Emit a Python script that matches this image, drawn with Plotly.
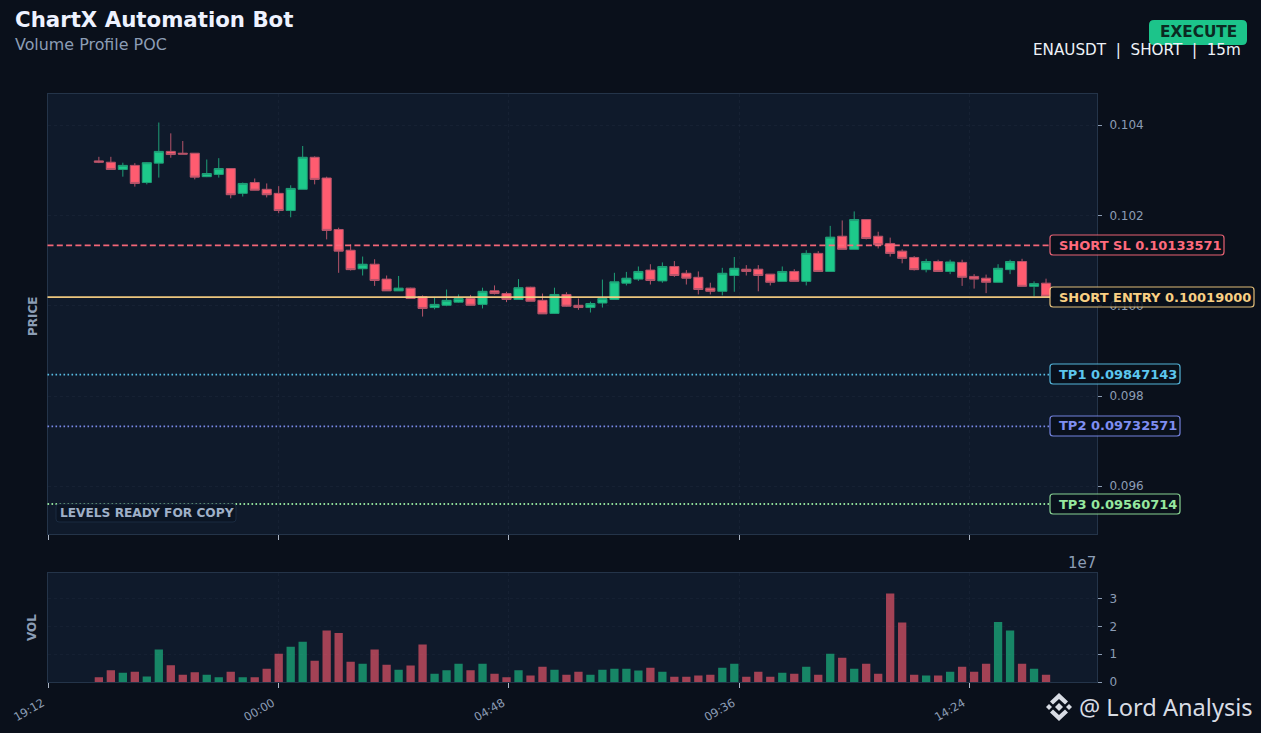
# !/usr/bin/env python
# coding: utf-8

import pandas as pd
import plotly.graph_objects as go

W = 1261
H = 733

# Velas de 15m (ENAUSDT)
opens = [0.10321, 0.10318, 0.10302, 0.10311, 0.10273, 0.10316, 0.10342, 0.10338, 0.10338, 0.10286,
         0.10291, 0.10304, 0.10249, 0.10273, 0.10258, 0.10249, 0.10211, 0.10258, 0.10329, 0.10283,
         0.10169, 0.10123, 0.10082, 0.10092, 0.10059, 0.10033, 0.10039, 0.10020, 0.09996, 0.10001,
         0.10008, 0.10016, 0.10003, 0.10033, 0.10027, 0.10014, 0.10041, 0.10012, 0.09983, 0.10025,
         0.10001, 0.09996, 0.10006, 0.10014, 0.10050, 0.10059, 0.10079, 0.10055, 0.10087, 0.10072,
         0.10063, 0.10039, 0.10032, 0.10067, 0.10081, 0.10081, 0.10070, 0.10054, 0.10076, 0.10054,
         0.10116, 0.10076, 0.10154, 0.10125, 0.10191, 0.10154, 0.10138, 0.10121, 0.10107, 0.10080,
         0.10098, 0.10076, 0.10096, 0.10065, 0.10061, 0.10052, 0.10080, 0.10098, 0.10043, 0.10050]
highs = [0.10330, 0.10330, 0.10317, 0.10316, 0.10318, 0.10406, 0.10382, 0.10365, 0.10338, 0.10324,
         0.10327, 0.10304, 0.10273, 0.10282, 0.10271, 0.10265, 0.10267, 0.10354, 0.10331, 0.10286,
         0.10173, 0.10136, 0.10109, 0.10103, 0.10067, 0.10066, 0.10040, 0.10023, 0.10018, 0.10036,
         0.10025, 0.10024, 0.10040, 0.10045, 0.10031, 0.10059, 0.10042, 0.10027, 0.10040, 0.10030,
         0.10016, 0.10009, 0.10058, 0.10073, 0.10075, 0.10087, 0.10092, 0.10096, 0.10099, 0.10079,
         0.10076, 0.10051, 0.10084, 0.10108, 0.10090, 0.10090, 0.10070, 0.10087, 0.10081, 0.10123,
         0.10121, 0.10177, 0.10189, 0.10209, 0.10191, 0.10164, 0.10151, 0.10125, 0.10110, 0.10104,
         0.10102, 0.10102, 0.10102, 0.10070, 0.10069, 0.10092, 0.10102, 0.10104, 0.10054, 0.10060]
lows = [0.10316, 0.10301, 0.10286, 0.10264, 0.10269, 0.10284, 0.10328, 0.10336, 0.10280, 0.10285,
        0.10284, 0.10238, 0.10242, 0.10256, 0.10240, 0.10205, 0.10196, 0.10258, 0.10269, 0.10147,
        0.10073, 0.10078, 0.10067, 0.10044, 0.10033, 0.10033, 0.10016, 0.09976, 0.09992, 0.09999,
        0.10007, 0.10001, 0.09994, 0.10025, 0.10008, 0.10014, 0.10010, 0.09982, 0.09982, 0.09998,
        0.09991, 0.09985, 0.09996, 0.10014, 0.10045, 0.10055, 0.10047, 0.10051, 0.10064, 0.10047,
        0.10025, 0.10025, 0.10023, 0.10031, 0.10067, 0.10032, 0.10045, 0.10054, 0.10054, 0.10045,
        0.10076, 0.10076, 0.10125, 0.10125, 0.10147, 0.10127, 0.10109, 0.10094, 0.10078, 0.10074,
        0.10076, 0.10070, 0.10044, 0.10038, 0.10028, 0.10052, 0.10070, 0.10043, 0.10021, 0.10021]
closes = [0.10318, 0.10302, 0.10311, 0.10271, 0.10317, 0.10342, 0.10335, 0.10336, 0.10285, 0.10293,
          0.10304, 0.10246, 0.10271, 0.10256, 0.10246, 0.10211, 0.10260, 0.10329, 0.10280, 0.10167,
          0.10121, 0.10080, 0.10092, 0.10056, 0.10033, 0.10039, 0.10016, 0.09994, 0.10003, 0.10012,
          0.10016, 0.10001, 0.10032, 0.10027, 0.10014, 0.10040, 0.10010, 0.09982, 0.10025, 0.09999,
          0.09996, 0.10005, 0.10016, 0.10053, 0.10061, 0.10076, 0.10056, 0.10087, 0.10067, 0.10061,
          0.10036, 0.10032, 0.10072, 0.10083, 0.10076, 0.10067, 0.10052, 0.10076, 0.10054, 0.10116,
          0.10076, 0.10152, 0.10125, 0.10191, 0.10149, 0.10135, 0.10116, 0.10105, 0.10080, 0.10098,
          0.10076, 0.10097, 0.10063, 0.10059, 0.10052, 0.10083, 0.10098, 0.10043, 0.10049, 0.10021]

# Volumen en unidades de 1e7
volumes = [0.17, 0.42, 0.33, 0.37, 0.20, 1.17, 0.60, 0.26, 0.35, 0.26,
           0.17, 0.37, 0.17, 0.17, 0.48, 1.02, 1.27, 1.45, 0.76, 1.85,
           1.76, 0.73, 0.66, 1.17, 0.62, 0.44, 0.59, 1.35, 0.30, 0.42,
           0.66, 0.42, 0.66, 0.30, 0.17, 0.42, 0.23, 0.55, 0.44, 0.26,
           0.37, 0.26, 0.44, 0.48, 0.48, 0.41, 0.51, 0.37, 0.19, 0.19,
           0.23, 0.26, 0.51, 0.66, 0.19, 0.37, 0.19, 0.33, 0.30, 0.55,
           0.26, 1.02, 0.87, 0.48, 0.66, 0.30, 3.18, 2.14, 0.26, 0.23,
           0.23, 0.37, 0.55, 0.37, 0.66, 2.16, 1.85, 0.66, 0.48, 0.26]

times = pd.date_range('2025-01-01 20:15', periods=len(opens), freq='15min')

tick_times = ['2025-01-01 19:12', '2025-01-02 00:00', '2025-01-02 04:48',
              '2025-01-02 09:36', '2025-01-02 14:24']
tick_labels = ['19:12', '00:00', '04:48', '09:36', '14:24']
price_ticks = [0.096, 0.098, 0.100, 0.102, 0.104]
vol_ticks = [0, 1, 2, 3]

level_names = ['SHORT SL', 'SHORT ENTRY', 'TP1', 'TP2', 'TP3']
level_values = [0.10133571, 0.10019000, 0.09847143, 0.09732571, 0.09560714]
level_colors = ['#ff6b7d', '#f8cf83', '#5cc6ee', '#7f8ef2', '#96e89f']
level_dashes = ['6px,3.3px', 'solid', '1.6px,2.4px', '1.6px,2.4px', '1.6px,2.4px']
level_box_right = [1224, 1254, 1180, 1180, 1180]
level_box_middle = [245, 297, 374, 426, 504]

BG = '#0a101b'
PANEL = '#0f1a2b'
FRAME = '#243449'
MUTED = '#8c9db5'
UP = '#1dc98a'
DOWN = '#ff5c70'
FONT = 'DejaVu Sans'


def px(x):
    return x / W


def py(y):
    return 1 - y / H


def poly(points):
    """Path cerrado a partir de puntos en pixeles de la pagina."""
    head = f'M {px(points[0][0])},{py(points[0][1])}'
    body = ' '.join(f'L {px(x)},{py(y)}' for x, y in points[1:])
    return f'{head} {body} Z'


def rounded(x0, y0, x1, y1, r=3):
    """Rectangulo redondeado en pixeles de la pagina."""
    return (f'M {px(x0 + r)},{py(y0)} L {px(x1 - r)},{py(y0)} '
            f'Q {px(x1)},{py(y0)} {px(x1)},{py(y0 + r)} L {px(x1)},{py(y1 - r)} '
            f'Q {px(x1)},{py(y1)} {px(x1 - r)},{py(y1)} L {px(x0 + r)},{py(y1)} '
            f'Q {px(x0)},{py(y1)} {px(x0)},{py(y1 - r)} L {px(x0)},{py(y0 + r)} '
            f'Q {px(x0)},{py(y0)} {px(x0 + r)},{py(y0)} Z')


def add_text(fig, x, y, text, size, color, anchor='left', bold=False, family=FONT, angle=0):
    label = f'<b>{text}</b>' if bold else text
    fig.add_annotation(xref='paper', yref='paper', x=px(x), y=py(y), text=label,
                       showarrow=False, xanchor=anchor, yanchor='middle', textangle=angle,
                       font=dict(family=family, size=size, color=color), borderpad=0)


fig = go.Figure()

fig.add_trace(go.Candlestick(x=times, open=opens, high=highs, low=lows, close=closes,
                             increasing=dict(fillcolor=UP, line=dict(color='#1f9f77', width=1)),
                             decreasing=dict(fillcolor=DOWN, line=dict(color='#b5546a', width=1)),
                             whiskerwidth=0, xaxis='x', yaxis='y', showlegend=False))

vol_colors = [UP if c >= o else DOWN for o, c in zip(opens, closes)]
fig.add_trace(go.Bar(x=times, y=volumes, marker=dict(color=vol_colors, opacity=0.62, line_width=0),
                     width=623000, xaxis='x2', yaxis='y2', showlegend=False))

x_common = dict(type='date', range=['2025-01-01 19:10:45', '2025-01-02 17:03:45'],
                tickmode='array', tickvals=tick_times, ticks='outside', ticklen=5, tickwidth=1,
                tickcolor='#aab4c4', showline=True, linecolor=FRAME, mirror=True,
                showgrid=True, gridcolor='rgba(140,160,190,0.06)', griddash='dot',
                zeroline=False, rangeslider=dict(visible=False))

fig.update_layout(
    width=W, height=H, autosize=False,
    margin=dict(l=0, r=0, t=0, b=0, autoexpand=False),
    paper_bgcolor=BG, plot_bgcolor=PANEL,
    boxgap=0.24, boxgroupgap=0, bargap=0.3,
    font=dict(family=FONT, size=11, color=MUTED),
    hovermode=False,
    xaxis=dict(domain=[px(47.5), px(1097)], anchor='y', showticklabels=False, **x_common),
    xaxis2=dict(domain=[px(47.5), px(1097)], anchor='y2', showticklabels=True, ticktext=tick_labels,
                tickangle=-30, tickfont=dict(size=11.5, color=MUTED),
                ticklabelstandoff=4, ticklabelshift=-6, **x_common),
    yaxis=dict(domain=[py(534), py(94)], anchor='x', side='right', range=[0.094942, 0.104692],
               tickmode='array', tickvals=price_ticks, tickformat='.3f', ticks='outside', ticklen=4,
               tickcolor=MUTED, tickfont=dict(size=12, color=MUTED), ticklabelstandoff=5,
               showline=True, linecolor=FRAME, mirror=True, showgrid=True,
               gridcolor='rgba(140,160,190,0.06)', griddash='dot', zeroline=False),
    yaxis2=dict(domain=[py(682), py(573)], anchor='x2', side='right', range=[0, 3.92],
                tickmode='array', tickvals=vol_ticks, ticks='outside', ticklen=4,
                tickcolor=MUTED, tickfont=dict(size=12, color=MUTED), ticklabelstandoff=5,
                showline=True, linecolor=FRAME, mirror=True, showgrid=True,
                gridcolor='rgba(140,160,190,0.05)', griddash='dot', zeroline=False),
)

# Niveles de la operacion con sus etiquetas
for name, value, color, dash, right, middle in zip(level_names, level_values, level_colors,
                                                   level_dashes, level_box_right, level_box_middle):
    fig.add_shape(type='line', xref='paper', yref='y', x0=px(47.5), x1=px(1050), y0=value, y1=value,
                  line=dict(color=color, width=1.8, dash=dash), opacity=0.95, layer='above')
    fig.add_shape(type='path', xref='paper', yref='paper', path=rounded(1050, middle - 10, right, middle + 10),
                  fillcolor='rgba(10,16,27,0.94)', line=dict(color=color, width=1.2), opacity=0.9, layer='above')
    add_text(fig, 1058, middle, f'{name} {value:.8f}', 13, color, bold=True)

# Cabecera
add_text(fig, 14, 20, 'ChartX Automation Bot', 21.3, '#eef2ff', bold=True)
add_text(fig, 14, 45, 'Volume Profile POC', 15.9, MUTED)
fig.add_shape(type='path', xref='paper', yref='paper', path=rounded(1149, 20, 1247, 45, 5),
              fillcolor='#1cc48a', line_width=0, layer='above')
add_text(fig, 1198, 32, 'EXECUTE', 15.3, '#0b2a22', anchor='center', bold=True)
add_text(fig, 1242, 50, 'ENAUSDT  |  SHORT  |  15m', 15.2, '#eef2f8', anchor='right')

# Rotulos de los paneles
add_text(fig, 33, 316, 'PRICE', 12, MUTED, anchor='center', bold=True, angle=-90)
add_text(fig, 32, 628, 'VOL', 12, MUTED, anchor='center', bold=True, angle=-90)
add_text(fig, 1097, 562.5, '1e7', 15, MUTED, anchor='right')

fig.add_shape(type='path', xref='paper', yref='paper', path=rounded(56, 504, 236, 522, 3),
              fillcolor='#0b1524', line=dict(color='#1a2a40', width=1), layer='above')
add_text(fig, 59, 513, 'LEVELS READY FOR COPY', 12.2, '#9fb0c8', bold=True)

# Marca de agua
LOGO = '#d8dce4'
logo_parts = [
    [(1059, 693), (1068, 701.5), (1065, 704.5), (1059, 699), (1053, 704.5), (1050, 701.5)],
    [(1059, 721), (1068, 712.5), (1065, 709.5), (1059, 715), (1053, 709.5), (1050, 712.5)],
    [(1059, 703), (1063, 707), (1059, 711), (1055, 707)],
    [(1049, 704), (1052, 707), (1049, 710), (1046, 707)],
    [(1069, 704), (1072, 707), (1069, 710), (1066, 707)],
]
for part in logo_parts:
    fig.add_shape(type='path', xref='paper', yref='paper', path=poly(part),
                  fillcolor=LOGO, line_width=0, layer='above')
add_text(fig, 1078, 707, '@ Lord Analysis', 23.6, LOGO, family='Noto Sans')

fig.write_html("out.html", config=dict(displayModeBar=False),
               post_script="document.body.style.margin='0';")
